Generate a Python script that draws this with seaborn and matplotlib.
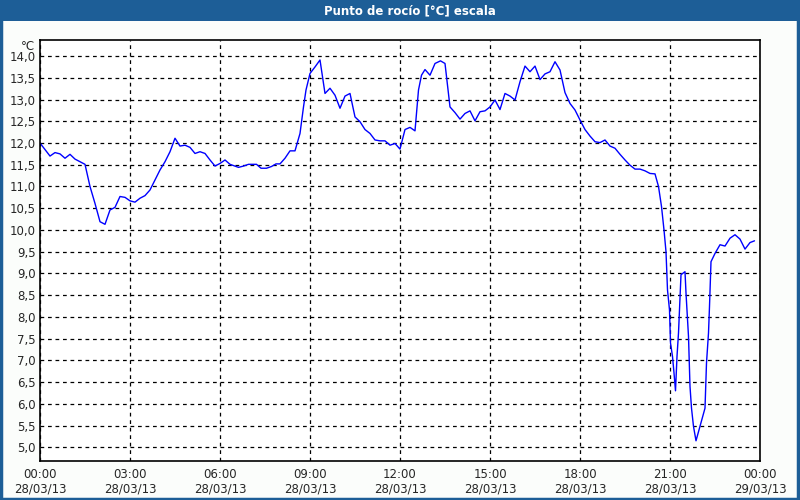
import matplotlib
matplotlib.use("Agg")
import matplotlib.pyplot as plt
import matplotlib.patches as mpatches
from matplotlib.ticker import MultipleLocator
import seaborn as sns
import pandas as pd

# ---- data (minutes since 00:00 28/03/13, dew point °C) ----
minutes = [0, 20, 30, 40, 50, 60, 70, 80, 90, 100, 110, 120, 130, 140, 150, 160, 170, 180,
           190, 200, 210, 220, 230, 240, 250, 260, 270, 280, 290, 300, 310, 320, 330, 340,
           350, 360, 370, 380, 397, 407, 417, 433, 442, 453, 463, 472, 480, 490, 500, 510,
           520, 527, 532, 540, 550, 560, 570, 580, 590, 600, 610, 620, 630, 640, 650, 660,
           670, 680, 690, 700, 710, 720, 730, 740, 750, 757, 763, 770, 780, 790, 801, 810,
           820, 830, 840, 850, 860, 870, 880, 890, 900, 910, 920, 930, 940, 950, 960, 970,
           980, 990, 1000, 1010, 1020, 1030, 1040, 1050, 1060, 1070, 1080, 1090, 1100, 1110,
           1120, 1130, 1140, 1150, 1160, 1170, 1180, 1190, 1200, 1210, 1220, 1230, 1237,
           1243, 1248, 1252, 1255, 1259, 1261, 1265, 1268, 1271, 1272, 1274, 1277, 1279,
           1282, 1290, 1292, 1297, 1300, 1303, 1307, 1312, 1320, 1330, 1333, 1337, 1339,
           1341, 1342, 1350, 1360, 1370, 1380, 1390, 1400, 1410, 1420, 1429]
dew_point = [12.00, 11.70, 11.78, 11.75, 11.65, 11.74, 11.63, 11.57, 11.51, 11.00, 10.61, 10.19,
             10.13, 10.46, 10.52, 10.77, 10.75, 10.67, 10.64, 10.73, 10.79, 10.92, 11.15, 11.38,
             11.57, 11.80, 12.11, 11.93, 11.95, 11.90, 11.76, 11.80, 11.76, 11.61, 11.47, 11.53,
             11.61, 11.51, 11.44, 11.47, 11.51, 11.51, 11.42, 11.42, 11.46, 11.52, 11.52, 11.65,
             11.82, 11.82, 12.22, 12.83, 13.22, 13.60, 13.75, 13.91, 13.14, 13.26, 13.10, 12.80,
             13.08, 13.14, 12.60, 12.49, 12.31, 12.22, 12.07, 12.05, 12.05, 11.95, 11.99, 11.86,
             12.31, 12.36, 12.28, 13.22, 13.56, 13.69, 13.56, 13.83, 13.89, 13.83, 12.83, 12.70,
             12.55, 12.68, 12.74, 12.51, 12.72, 12.74, 12.83, 12.99, 12.77, 13.14, 13.08, 12.99,
             13.41, 13.77, 13.64, 13.77, 13.46, 13.59, 13.64, 13.87, 13.68, 13.16, 12.91, 12.76,
             12.53, 12.31, 12.16, 12.03, 12.01, 12.07, 11.93, 11.88, 11.74, 11.61, 11.49, 11.40,
             11.40, 11.36, 11.30, 11.29, 11.00, 10.54, 10.00, 9.50, 8.62, 8.16, 7.40, 7.09,
             6.71, 6.30, 6.55, 7.09, 7.63, 8.16, 8.97, 9.04, 8.55, 7.55, 6.40, 5.90, 5.48,
             5.15, 5.48, 5.90, 6.94, 7.63, 8.24, 8.93, 9.27, 9.46, 9.66, 9.63, 9.81, 9.89,
             9.79, 9.56, 9.71, 9.75]

x_tick_hours = [0, 3, 6, 9, 12, 15, 18, 21, 24]
x_tick_labels = ["00:00\n28/03/13", "03:00\n28/03/13", "06:00\n28/03/13", "09:00\n28/03/13",
                 "12:00\n28/03/13", "15:00\n28/03/13", "18:00\n28/03/13", "21:00\n28/03/13",
                 "00:00\n29/03/13"]
y_ticks = [5.0, 5.5, 6.0, 6.5, 7.0, 7.5, 8.0, 8.5, 9.0, 9.5, 10.0, 10.5, 11.0, 11.5, 12.0,
           12.5, 13.0, 13.5, 14.0]
title = "Punto de rocío [°C] escala"
unit = "°C"

df = pd.DataFrame({"hour": [m / 60 for m in minutes], "value": dew_point})

sns.set_style("white")
plt.rcParams["font.family"] = ["DejaVu Sans"]

W, H = 800, 500
fig = plt.figure(figsize=(8, 5), dpi=100, facecolor="#fbfdfb")
ax = fig.add_axes([40 / W, 1 - 461 / H, 720 / W, 421 / H])
ax.set_facecolor("white")

sns.lineplot(data=df, x="hour", y="value", ax=ax, color="#0000ff", linewidth=1.0)

ax.set_xlim(0, 24)
ax.set_ylim(4.685, 14.37)
ax.set_xticks(x_tick_hours)
ax.set_xticklabels(x_tick_labels, fontsize=8.5, linespacing=1.2)
ax.xaxis.set_minor_locator(MultipleLocator(1))
ax.set_yticks(y_ticks)
ax.set_yticklabels([f"{v:.1f}".replace(".", ",") for v in y_ticks], fontsize=8.5)
ax.set_xlabel("")
ax.set_ylabel("")

ax.tick_params(axis="x", which="major", direction="out", length=3, width=1, color="black", pad=2)
ax.tick_params(axis="x", which="minor", direction="out", length=3, width=1, color="black")
ax.tick_params(axis="y", which="major", length=0, pad=3)

ax.grid(True, which="major", color="black", linestyle=(0, (3, 3)), linewidth=0.9)
for s in ax.spines.values():
    s.set_visible(True)
    s.set_color("black")
    s.set_linewidth(1.2)

# unit label
fig.text(35 / W, 1 - 46 / H, unit, ha="right", va="center", fontsize=8.5)

# title bar
bar_color = "#1d5e97"
fig.patches.append(mpatches.Rectangle((0, 1 - 21 / H), 1, 21 / H, transform=fig.transFigure,
                                      facecolor=bar_color, edgecolor="none", zorder=0))
fig.text(410 / W, 1 - 10.5 / H, title, ha="center", va="center", color="white",
         fontsize=8.5, fontweight="bold")
# outer border
fig.patches.append(mpatches.Rectangle((0.001, 0.002), 0.997, 0.99, transform=fig.transFigure,
                                      facecolor="none", edgecolor=bar_color, linewidth=2.5,
                                      zorder=0))

fig.savefig("out.png", dpi=100, facecolor=fig.get_facecolor())
